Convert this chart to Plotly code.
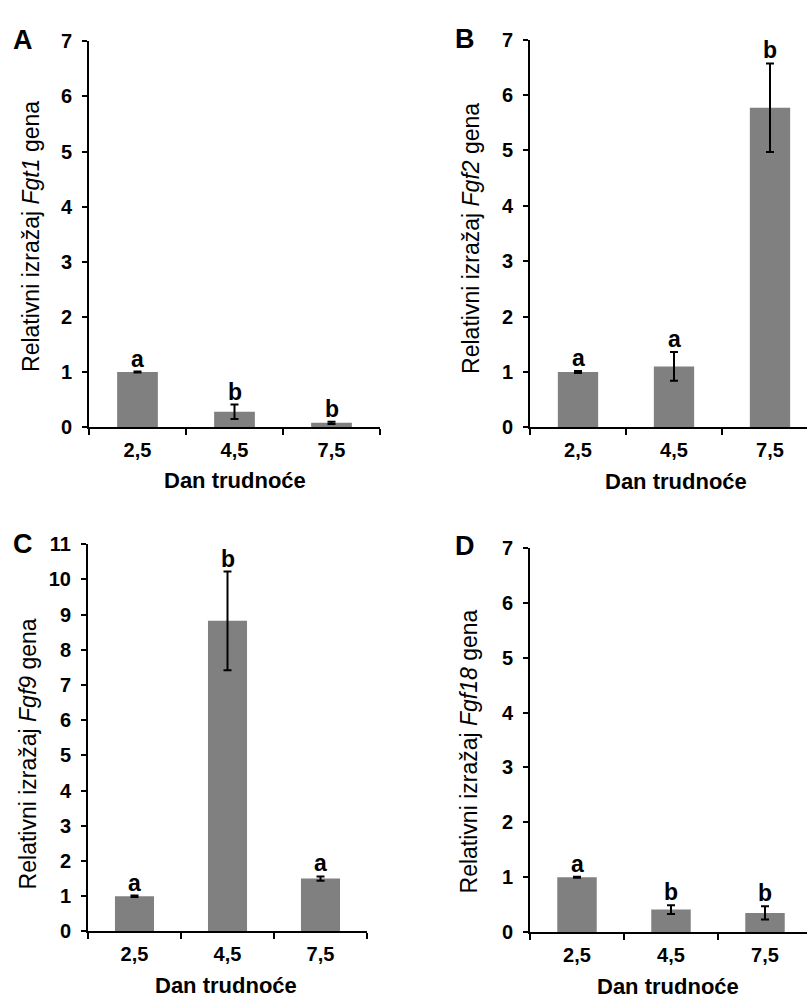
import plotly.graph_objects as go

# ---------------- data ----------------
days = ["2,5", "4,5", "7,5"]

fgf1_mean = [1.00, 0.28, 0.08]
fgf1_err = [0.01, 0.13, 0.02]
fgf1_letters = ["a", "b", "b"]

fgf2_mean = [1.00, 1.10, 5.77]
fgf2_err = [0.02, 0.26, 0.80]
fgf2_letters = ["a", "a", "b"]

fgf9_mean = [1.00, 8.82, 1.50]
fgf9_err = [0.02, 1.40, 0.06]
fgf9_letters = ["a", "b", "a"]

fgf18_mean = [1.00, 0.41, 0.35]
fgf18_err = [0.01, 0.08, 0.12]
fgf18_letters = ["a", "b", "b"]

panel_labels = ["A", "B", "C", "D"]
gene_names = ["Fgt1", "Fgf2", "Fgf9", "Fgf18"]
y_max = [7, 7, 11, 7]
x_title = "Dan trudnoće"

# ---------------- layout helpers ----------------
W, H = 807, 1006
FONT = "Arial, 'Liberation Sans', sans-serif"
BAR_COLOR = "#808080"


def fx(px):
    return px / W


def fy(py):
    return 1 - py / H


# pixel geometry of each panel: x-axis start/end, category width, y of 0 and y of max
geom = [
    dict(x0=89, x1=380, cw=97.0, y0=425.5, y1=31.0, lab=(23, 30), yt=(31, 231), xt=(235, 480)),
    dict(x0=530, x1=807, cw=96.0, y0=425.7, y1=29.3, lab=(465, 29), yt=(471, 233), xt=(676, 481)),
    dict(x0=88, x1=367, cw=93.0, y0=941.0, y1=545.0, lab=(23, 545), yt=(28, 760), xt=(226, 996)),
    dict(x0=530, x1=807, cw=94.0, y0=941.7, y1=549.0, lab=(465, 547), yt=(469, 757), xt=(668, 997)),
]

means = [fgf1_mean, fgf2_mean, fgf9_mean, fgf18_mean]
errs = [fgf1_err, fgf2_err, fgf9_err, fgf18_err]
letters = [fgf1_letters, fgf2_letters, fgf9_letters, fgf18_letters]

fig = go.Figure()
annotations = []
layout_axes = {}

for i in range(4):
    n = "" if i == 0 else str(i + 1)
    g = geom[i]
    fig.add_trace(go.Bar(
        x=days, y=means[i],
        xaxis="x" + n, yaxis="y" + n,
        width=0.42,
        marker=dict(color=BAR_COLOR, line=dict(width=0)),
        error_y=dict(type="data", array=errs[i], visible=True,
                     color="black", thickness=2, width=4),
        showlegend=False,
    ))
    xr_end = -0.5 + (g["x1"] - g["x0"]) / g["cw"]
    layout_axes["xaxis" + n] = dict(
        domain=[fx(g["x0"]), fx(g["x1"])],
        anchor="y" + n,
        type="category",
        range=[-0.5, xr_end],
        tickson="boundaries",
        ticks="outside", ticklen=6, tickwidth=2, tickcolor="black",
        showline=True, linecolor="black", linewidth=2,
        showgrid=False, zeroline=False,
        tickfont=dict(family=FONT, size=20, color="black", weight="bold"),
        ticklabelstandoff=4,
        fixedrange=True,
    )
    layout_axes["yaxis" + n] = dict(
        domain=[fy(g["y0"]), fy(g["y1"])],
        anchor="x" + n,
        range=[0, y_max[i]],
        dtick=1, tick0=0,
        ticks="outside", ticklen=5, tickwidth=2, tickcolor="black",
        showline=True, linecolor="black", linewidth=2,
        showgrid=False, zeroline=False,
        tickfont=dict(family=FONT, size=20, color="black", weight="bold"),
        ticklabelstandoff=6,
        fixedrange=True,
    )
    # significance letters
    for d, m, e, t in zip(days, means[i], errs[i], letters[i]):
        annotations.append(dict(
            x=d, y=m + e, xref="x" + n, yref="y" + n,
            text="<b>%s</b>" % t, showarrow=False,
            yanchor="bottom", xanchor="center", yshift=-2,
            font=dict(family=FONT, size=23, color="black"),
        ))
    # panel label
    annotations.append(dict(
        x=fx(g["lab"][0]), y=fy(g["lab"][1]), xref="paper", yref="paper",
        text="<b>%s</b>" % panel_labels[i], showarrow=False,
        xanchor="center", yanchor="middle",
        font=dict(family=FONT, size=27, color="black"),
    ))
    # y title
    annotations.append(dict(
        x=fx(g["yt"][0]), y=fy(g["yt"][1]), xref="paper", yref="paper",
        text="Relativni izražaj <i>%s</i> gena" % gene_names[i], showarrow=False,
        textangle=-90, xanchor="center", yanchor="middle",
        font=dict(family=FONT, size=23, color="black"),
    ))
    # x title
    annotations.append(dict(
        x=fx(g["xt"][0]), y=fy(g["xt"][1]), xref="paper", yref="paper",
        text="<b>%s</b>" % x_title, showarrow=False,
        xanchor="center", yanchor="middle",
        font=dict(family=FONT, size=22, color="black"),
    ))

fig.update_layout(
    width=W, height=H,
    margin=dict(l=0, r=0, t=0, b=0),
    paper_bgcolor="white", plot_bgcolor="white",
    annotations=annotations,
    **layout_axes,
)

fig.write_html(
    "out.html",
    config={"displayModeBar": False},
    post_script="document.body.style.margin='0';document.body.style.overflow='hidden';",
)
